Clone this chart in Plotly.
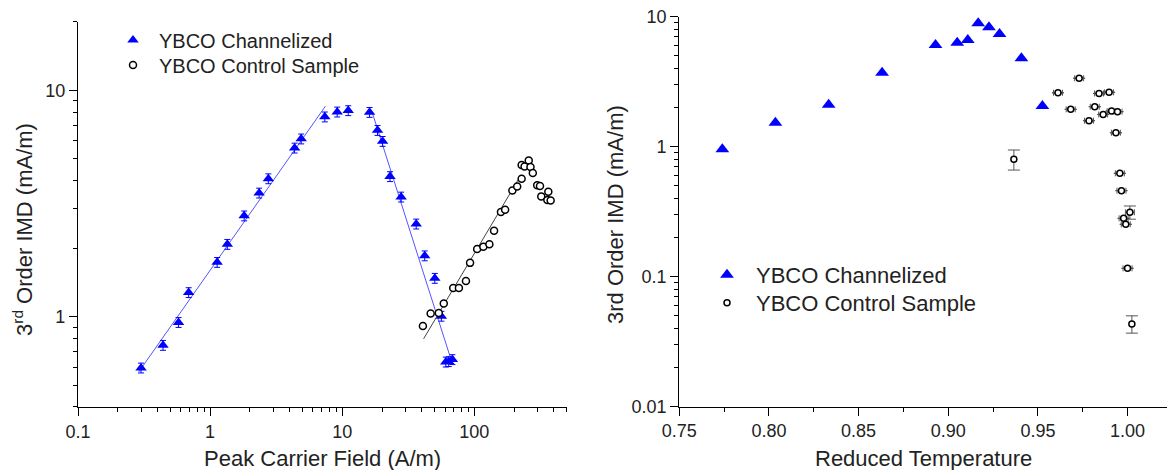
import plotly.graph_objects as go

# left panel: IMD vs peak carrier field
chan_field = [0.30, 0.44, 0.577, 0.688, 1.13, 1.35, 1.81, 2.35, 2.76, 4.36, 4.89,
              7.38, 9.16, 11.1, 16.1, 18.5, 20.2, 23.0, 27.9, 36.3, 42.1, 50.2, 56.3, 60.8, 64.0, 68.2]
chan_imd = [0.595, 0.749, 0.945, 1.28, 1.74, 2.09, 2.79, 3.52, 4.07, 5.56, 6.1,
            7.63, 8.02, 8.13, 7.99, 6.65, 5.95, 4.16, 3.38, 2.57, 1.86, 1.48, 1.007, 0.632, 0.635, 0.648]

ctrl_field = [40.8, 46.7, 53.8, 58.7, 69.2, 76.4, 86.4, 92.8, 105, 117, 130, 141, 159, 171,
              194, 211, 228, 228, 240, 258, 266, 277, 299, 314, 321, 363, 357, 378]
ctrl_imd = [0.91, 1.035, 1.04, 1.146, 1.34, 1.34, 1.44, 1.73, 1.99, 2.04, 2.09, 2.40, 2.9, 2.97,
            3.61, 3.76, 4.07, 4.68, 4.61, 4.9, 4.58, 4.31, 3.81, 3.78, 3.40, 3.56, 3.28, 3.26]

fit1_x = [0.288, 7.46]
fit1_y = [0.571, 8.5]
fit2_x = [16.9, 66.2]
fit2_y = [7.95, 0.655]
fit3_x = [41.3, 215]
fit3_y = [0.80, 4.03]

# right panel: IMD vs reduced temperature
chan_t = [0.774, 0.8036, 0.8333, 0.8631, 0.8929, 0.905, 0.9109, 0.9167, 0.9227, 0.9286, 0.9408, 0.9525]
chan_t_imd = [0.955, 1.53, 2.10, 3.71, 6.06, 6.31, 6.62, 8.9, 8.29, 7.36, 4.79, 2.06]

ctrl_t = [0.9366, 0.9612, 0.973, 0.9683, 0.9841, 0.9897, 0.9817, 0.9785, 0.9864, 0.9911, 0.9944,
          0.9935, 0.9957, 0.9966, 1.0013, 0.9978, 0.999, 1.0, 1.0024]
ctrl_t_imd = [0.80, 2.60, 3.36, 1.94, 2.57, 2.62, 2.03, 1.585, 1.77, 1.88, 1.86,
              1.28, 0.624, 0.459, 0.313, 0.281, 0.253, 0.116, 0.0433]
ctrl_t_err = [None, 0.0025, 0.0025, 0.0025, 0.0025, 0.0025, 0.0025, 0.0025, 0.0025, 0.0025, 0.0025,
              0.0025, 0.0025, 0.0025, 0.0025, 0.0025, 0.0025, 0.0025, None]
ctrl_imd_err_up = [0.143, None, None, None, None, None, None, None, None, None, None,
                   None, None, None, 0.037, None, None, None, 0.0067]
ctrl_imd_err_dn = [0.139, None, None, None, None, None, None, None, None, None, None,
                   None, None, None, 0.036, None, None, None, 0.0065]

W, H = 1167, 470
BLUE = '#0000ff'
FONT = 'Arial, Liberation Sans, sans-serif'

fig = go.Figure()

fig.add_trace(go.Scatter(x=fit1_x, y=fit1_y, mode='lines', line=dict(color='#5555ff', width=1),
                         showlegend=False, xaxis='x', yaxis='y'))
fig.add_trace(go.Scatter(x=fit2_x, y=fit2_y, mode='lines', line=dict(color='#5555ff', width=1),
                         showlegend=False, xaxis='x', yaxis='y'))
fig.add_trace(go.Scatter(x=fit3_x, y=fit3_y, mode='lines', line=dict(color='#444444', width=1),
                         showlegend=False, xaxis='x', yaxis='y'))
fig.add_trace(go.Scatter(x=chan_field, y=chan_imd, mode='markers', name='YBCO Channelized',
                         marker=dict(symbol='triangle-up', size=10, color=BLUE),
                         error_y=dict(type='percent', value=5, color=BLUE, thickness=1, width=3),
                         xaxis='x', yaxis='y', legend='legend'))
fig.add_trace(go.Scatter(x=ctrl_field, y=ctrl_imd, mode='markers', name='YBCO Control Sample',
                         marker=dict(symbol='circle', size=7, color='white',
                                     line=dict(color='black', width=1.5)),
                         xaxis='x', yaxis='y', legend='legend2'))

fig.add_trace(go.Scatter(x=chan_t, y=chan_t_imd, mode='markers', name='YBCO Channelized',
                         marker=dict(symbol='triangle-up', size=12, color=BLUE),
                         xaxis='x2', yaxis='y2', legend='legend3'))
fig.add_trace(go.Scatter(x=ctrl_t, y=ctrl_t_imd, mode='markers', name='YBCO Control Sample',
                         marker=dict(symbol='circle', size=6, color='white',
                                     line=dict(color='black', width=1.5)),
                         error_x=dict(type='data', array=ctrl_t_err, color='#555555', thickness=1, width=3),
                         error_y=dict(type='data', array=ctrl_imd_err_up, arrayminus=ctrl_imd_err_dn,
                                      symmetric=False, color='#555555', thickness=1, width=6),
                         xaxis='x2', yaxis='y2', legend='legend4'))

axis_common = dict(showline=True, linecolor='black', linewidth=1.3, ticks='outside', ticklen=8,
                   tickcolor='black', tickwidth=1.3, showgrid=False, zeroline=False, automargin=False,
                   tickfont=dict(family=FONT, size=18, color='#222'), mirror=False)
minor_log = dict(ticks='outside', ticklen=4, tickcolor='black', dtick='D1')


def leg(xpx, ypx, size, iw):
    return dict(x=xpx / W, y=1 - ypx / H, xanchor='left', yanchor='middle', bgcolor='rgba(0,0,0,0)',
                font=dict(family=FONT, size=size, color='#222'), itemwidth=iw)


def title(text, xpx, ypx, angle=0):
    return dict(text=text, x=xpx / W, y=1 - ypx / H, xref='paper', yref='paper', showarrow=False,
                xanchor='center', yanchor='middle', textangle=angle,
                font=dict(family=FONT, size=22, color='#222'))


fig.update_layout(
    width=W, height=H, margin=dict(l=0, r=0, t=0, b=0, autoexpand=False),
    plot_bgcolor='white', paper_bgcolor='white',
    font=dict(family=FONT, color='#222'),
    xaxis=dict(axis_common, type='log', range=[-1, 2.699], domain=[78 / W, 566.7 / W], anchor='y',
               dtick=1, minor=minor_log),
    yaxis=dict(axis_common, type='log', range=[-0.398, 1.301], domain=[63 / H, 448 / H], anchor='x',
               dtick=1, minor=minor_log),
    xaxis2=dict(axis_common, range=[0.75, 1.022], domain=[679.3 / W, 1.0], anchor='y2',
                tick0=0.75, dtick=0.05, tickformat='.2f',
                minor=dict(ticks='outside', ticklen=4, tickcolor='black', dtick=0.025)),
    yaxis2=dict(axis_common, type='log', range=[-2, 1], domain=[63.3 / H, 453.3 / H], anchor='x2',
                dtick=1, minor=minor_log),
    legend=leg(107, 40, 20, 42),
    legend2=leg(107, 65, 20, 42),
    legend3=leg(698, 275, 22, 48),
    legend4=leg(698, 303, 22, 48),
    annotations=[
        title('Peak Carrier Field (A/m)', 322, 458),
        title('Reduced Temperature', 923, 458),
        title('3<sup>rd</sup> Order IMD (mA/m)', 23, 230, -90),
        title('3rd Order IMD (mA/m)', 616, 215, -90),
    ],
)

fig.write_html('out.html', post_script="document.body.style.margin='0';",
               config={'displayModeBar': False})
